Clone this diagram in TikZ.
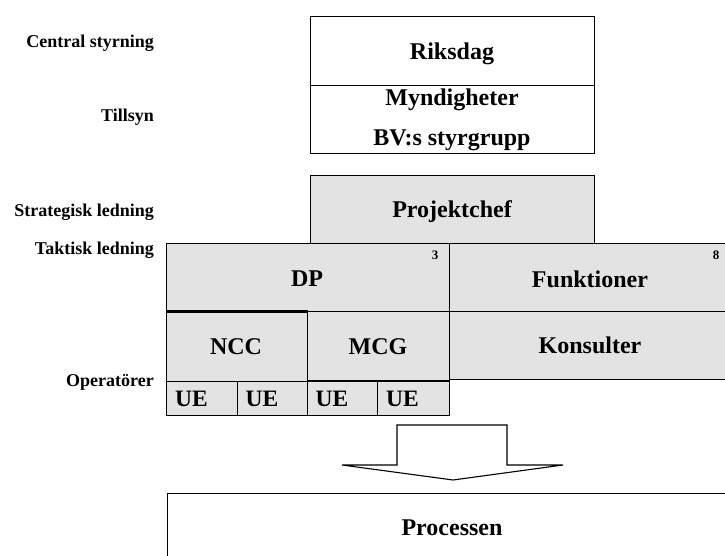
\documentclass[tikz,border=0pt]{standalone}
\usepackage{fontspec}
\setmainfont{Liberation Serif}
\begin{document}
\begin{tikzpicture}[x=1pt,y=-1pt,
  cell/.style={draw=black, line width=1.3pt, fill=black!11, inner sep=0pt, anchor=north west},
  plain/.style={cell, fill=white},
  boxtext/.style={font=\bfseries\fontsize{24}{26}\selectfont, inner sep=0pt},
  uetext/.style={font=\bfseries\fontsize{23.5}{26}\selectfont, inner sep=0pt, anchor=west},
  leveltext/.style={font=\bfseries\fontsize{18}{20}\selectfont, inner sep=0pt, anchor=east},
  note/.style={font=\bfseries\fontsize{13}{14}\selectfont, inner sep=0pt},
  thickedge/.style={line width=3pt}]
\useasboundingbox (0,0) rectangle (725,556);
\clip (0,0) rectangle (725,556);

% levels on the left
\node[leveltext] (lvl1) at (154,43)  {Central styrning};
\node[leveltext] (lvl2) at (154,117) {Tillsyn};
\node[leveltext] (lvl3) at (154,212) {Strategisk ledning};
\node[leveltext] (lvl4) at (154,250) {Taktisk ledning};
\node[leveltext] (lvl5) at (154,382) {Operatörer};

% central steering and supervision
\node[plain, minimum width=284pt, minimum height=69pt] (riks) at (310,16) {};
\node[plain, minimum width=284pt, minimum height=68pt] (mynd) at (310,85) {};
\node[boxtext] (triks) at (452,54)  {Riksdag};
\node[boxtext] (tmyn)  at (452,100) {Myndigheter};
\node[boxtext] (tbv)   at (452,140) {BV:s styrgrupp};

% project management
\node[cell, minimum width=284pt, minimum height=68pt] (proj) at (310,175) {};
\node[boxtext] (tproj) at (452,212) {Projektchef};

% tactical level
\node[cell, minimum width=283pt, minimum height=68pt] (dp)   at (166,243) {};
\node[cell, minimum width=290pt, minimum height=68pt] (funk) at (449,243) {};
\node[boxtext] (tdp)   at (307,279) {DP};
\node[boxtext] (tfunk) at (590,279) {Funktioner};
\node[note] (n3) at (435,255) {3};
\node[note] (n8) at (716,255) {8};

% operators
\node[cell, minimum width=140.5pt, minimum height=70pt] (ncc)  at (166,311) {};
\node[cell, minimum width=142pt,   minimum height=69pt] (mcg)  at (306.5,311) {};
\node[cell, minimum width=290pt,   minimum height=68pt] (kons) at (449,311) {};
\draw[thickedge] (ncc.north west) -- (ncc.north east);
\draw[thickedge] (mcg.south west) -- (mcg.south east);
\node[boxtext] (tncc)  at (236,347) {NCC};
\node[boxtext] (tmcg)  at (378,347) {MCG};
\node[boxtext] (tkons) at (590,345) {Konsulter};

\node[cell, minimum width=70.5pt, minimum height=34pt] (ue1) at (166,381) {};
\node[cell, minimum width=70pt,   minimum height=34pt] (ue2) at (236.5,381) {};
\node[cell, minimum width=70.5pt, minimum height=34pt] (ue3) at (306.5,381) {};
\node[cell, minimum width=71.5pt, minimum height=34pt] (ue4) at (377,381) {};
\foreach \u in {ue1,ue2,ue3,ue4}
  \node[uetext] (t\u) at ([xshift=9pt]\u.west) {UE};

% block arrow down to the process
\draw[line width=1.1pt, fill=white, line join=miter]
  (397,465) -- (397,425) -- (507,425) -- (507,465) -- (563,465)
  -- (453,480) -- (342,465) -- cycle;

% the process
\node[plain, minimum width=580pt, minimum height=100pt] (proc) at (167,493) {};
\node[boxtext] (tproc) at (452,528) {Processen};
\end{tikzpicture}
\end{document}
